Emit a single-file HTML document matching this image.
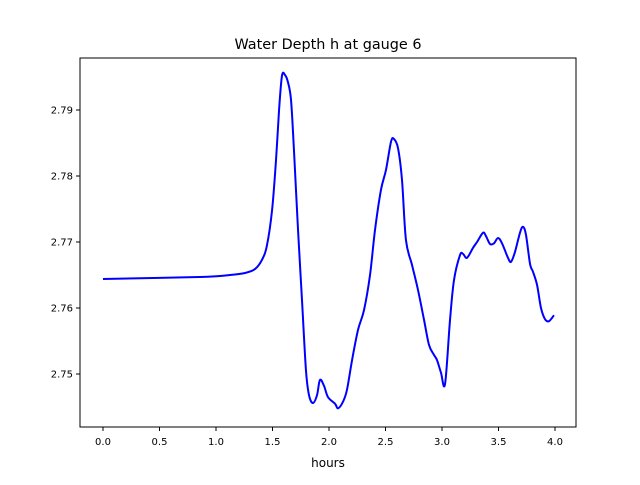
<!DOCTYPE html>
<html><head><meta charset="utf-8"><style>
body{margin:0;background:#fff;font-family:"Liberation Sans","DejaVu Sans",sans-serif}
svg text{font-family:"DejaVu Sans","Liberation Sans",sans-serif}
</style></head><body>
<svg id="chart" width="640" height="480" viewBox="0 0 640 480">
<rect width="640" height="480" fill="#fff"/>
<text x="328" y="49" font-size="14.4" text-anchor="middle">Water Depth h at gauge 6</text>
<g id="axes"></g>
<path id="line" fill="none" stroke="#0000ff" stroke-width="2"/>
<rect x="80" y="58" width="496" height="369" fill="none" stroke="#000" stroke-width="1"/>
<text x="328" y="467" font-size="12" text-anchor="middle">hours</text>
</svg>
<script>
const hours=[0,0.858,1.124,1.257,1.345,1.407,1.451,1.496,1.531,1.558,1.584,1.611,1.637,1.664,1.690,1.726,1.761,1.796,1.823,1.858,1.894,1.920,1.956,1.991,2.053,2.080,2.124,2.159,2.204,2.257,2.310,2.363,2.407,2.460,2.504,2.549,2.575,2.611,2.646,2.681,2.735,2.788,2.841,2.885,2.929,2.956,2.991,3.027,3.071,3.106,3.159,3.186,3.221,3.274,3.310,3.363,3.389,3.425,3.460,3.496,3.531,3.584,3.611,3.646,3.690,3.717,3.743,3.779,3.805,3.841,3.876,3.912,3.947,3.991];
const depth=[2.7644,2.7647,2.7650,2.7653,2.7659,2.7673,2.7695,2.7748,2.7824,2.7900,2.7952,2.7953,2.7942,2.7915,2.7839,2.7718,2.7612,2.7506,2.7468,2.7456,2.7468,2.7491,2.7482,2.7465,2.7455,2.7448,2.7458,2.7476,2.7521,2.7567,2.7597,2.7650,2.7718,2.7779,2.7809,2.7852,2.7856,2.7842,2.7794,2.7703,2.7665,2.7627,2.7582,2.7544,2.7529,2.7521,2.7502,2.7485,2.7582,2.7642,2.7680,2.7682,2.7676,2.7691,2.7700,2.7714,2.7709,2.7697,2.7698,2.7706,2.7698,2.7676,2.7670,2.7685,2.7714,2.7723,2.7711,2.7667,2.7655,2.7635,2.7600,2.7583,2.7580,2.7589];
const xTicks=[0,0.5,1,1.5,2,2.5,3,3.5,4];
const xTickLabels=["0.0","0.5","1.0","1.5","2.0","2.5","3.0","3.5","4.0"];
const yTicks=[2.75,2.76,2.77,2.78,2.79];
const yTickLabels=["2.75","2.76","2.77","2.78","2.79"];
const X=t=>103+t*113;
const Y=h=>308-(h-2.76)*6600;
const NS="http://www.w3.org/2000/svg";
const ax=document.getElementById('axes');
function mk(tag,a){const e=document.createElementNS(NS,tag);for(const k in a)e.setAttribute(k,a[k]);ax.appendChild(e);return e;}
xTicks.forEach((t,i)=>{
  const l=mk('line',{x1:X(t),x2:X(t),y1:427,y2:431,stroke:'#000'});
  
  
  const s=mk('text',{x:X(t),y:445,'font-size':10,'text-anchor':'middle'});
  s.textContent=xTickLabels[i];
  
  
});
yTicks.forEach((h,i)=>{
  const l=mk('line',{x1:76,x2:80,y1:Y(h),y2:Y(h),stroke:'#000'});
  
  
  const s=mk('text',{x:73,y:Y(h)+3.5,'font-size':10,'text-anchor':'end'});
  s.textContent=yTickLabels[i];
  
  
});
const P=hours.map((t,i)=>[X(t),Y(depth[i])]);
let d='M'+P[0][0]+','+P[0][1];
for(let i=0;i<P.length-1;i++){
  const p0=P[Math.max(0,i-1)],p1=P[i],p2=P[i+1],p3=P[Math.min(P.length-1,i+2)];
  const c1=[p1[0]+(p2[0]-p0[0])/6,p1[1]+(p2[1]-p0[1])/6];
  const c2=[p2[0]-(p3[0]-p1[0])/6,p2[1]-(p3[1]-p1[1])/6];
  d+=' C'+c1.join(',')+' '+c2.join(',')+' '+p2.join(',');
}
document.getElementById('line').setAttribute('d',d);
</script>
</body></html>
